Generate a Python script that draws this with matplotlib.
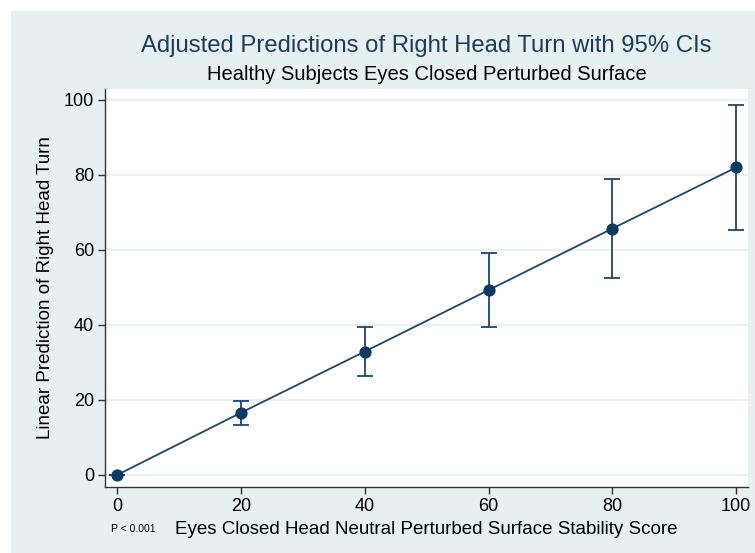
import numpy as np
import matplotlib.pyplot as plt
from matplotlib.patches import Rectangle

# values
score = [0, 20, 40, 60, 80, 100]
pred = [0.0, 16.6, 32.9, 49.3, 65.7, 82.0]
ci_low = [0.0, 13.3, 26.4, 39.4, 52.4, 65.3]
ci_high = [0.0, 19.7, 39.4, 59.1, 78.8, 98.7]
xticks = [0, 20, 40, 60, 80, 100]
yticks = [0, 20, 40, 60, 80, 100]

W, H = 755, 553
plt.rcParams['font.family'] = ['Liberation Sans', 'DejaVu Sans']

navy = '#1a476f'
bg = '#e6f0f1'

fig = plt.figure(figsize=(W / 100, H / 100), dpi=100, facecolor='white')
fig.patches.append(Rectangle((11 / W, 0), 1 - 11 / W, 1 - 11 / H,
                             transform=fig.transFigure, facecolor=bg,
                             edgecolor='none', zorder=-5))

left, right, top, bottom = 105, 748, 89, 487
ax = fig.add_axes([left / W, 1 - bottom / H, (right - left) / W, (bottom - top) / H])
ax.set_zorder(2)
ax.set_facecolor('white')

yerr = [np.array(pred) - np.array(ci_low), np.array(ci_high) - np.array(pred)]
ax.errorbar(score, pred, yerr=yerr, fmt='none', ecolor=navy, elinewidth=1.3,
            capsize=5.5, capthick=1.3, zorder=3)
ax.plot(score, pred, color=navy, lw=1.3, marker='o', ms=7.8,
        mfc='#0d3a63', mec='#0d3a63', zorder=4)

ax.set_xlim(-1.95, 101.9)
ax.set_ylim(-3.2, 102.9)
ax.set_xticks(xticks)
ax.set_yticks(yticks)
ax.yaxis.grid(True, color='#e3edf0', lw=1.2)
ax.set_axisbelow(True)

for s in ['top', 'right']:
    ax.spines[s].set_visible(False)
for s in ['left', 'bottom']:
    ax.spines[s].set_color('#333333')
    ax.spines[s].set_linewidth(1.0)
ax.tick_params(direction='out', length=5, width=1, color='#333333',
               labelsize=13, pad=3)

ax.set_ylabel('Linear Prediction of Right Head Turn', fontsize=13.5, labelpad=7)
ax.set_xlabel('Eyes Closed Head Neutral Perturbed Surface Stability Score',
              fontsize=13.5, labelpad=4)

cx = (left + right) / 2 / W
fig.text(cx, 1 - 52 / H, 'Adjusted Predictions of Right Head Turn with 95% CIs',
         ha='center', va='baseline', fontsize=17.2, color='#1f3a5f')
fig.text(cx, 1 - 80 / H, 'Healthy Subjects Eyes Closed Perturbed Surface',
         ha='center', va='baseline', fontsize=14.5)
fig.text(111 / W, 1 - 529 / H, 'P < 0.001', ha='left', va='center', fontsize=7.5)

fig.savefig('out.png', dpi=100, facecolor=fig.get_facecolor())
